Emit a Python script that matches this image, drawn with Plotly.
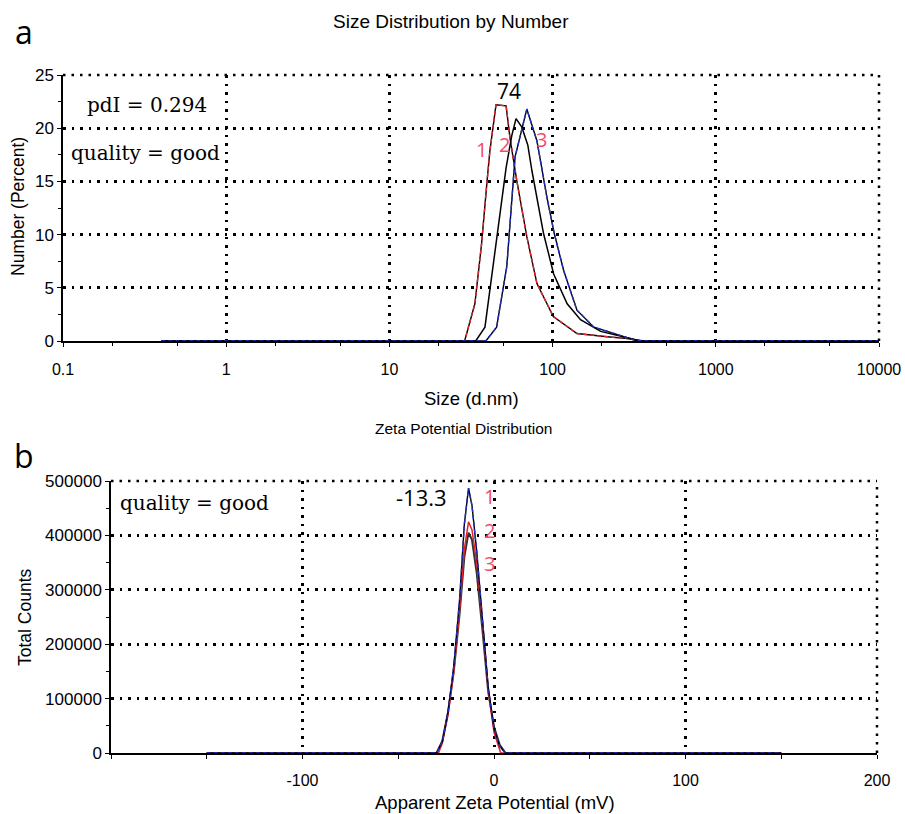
import plotly.graph_objects as go

W, H = 905, 814

# ---------------- data: size distribution (panel a) ----------------
size_run1 = [0.4, 28.9, 33.4, 36.7, 39.7, 41.3, 45.0, 51.9, 54.8, 60.3, 69.5, 80.2, 101, 141, 216, 302, 347, 10000]
num_run1 = [0, 0, 3.5, 9.1, 15.1, 17.9, 22.2, 22.1, 19.1, 15.1, 9.8, 5.4, 2.3, 0.7, 0.4, 0.2, 0, 0]

size_run2 = [0.4, 33.8, 38.5, 43.3, 47.6, 51.9, 56.2, 59.7, 64.8, 70.5, 74.7, 88.0, 101.5, 122.8, 148.3, 197, 287, 347, 10000]
num_run2 = [0, 0, 1.3, 7.3, 12.3, 16.3, 19.3, 20.9, 20.1, 18.4, 16.0, 10.1, 6.3, 3.5, 2.0, 0.9, 0.3, 0, 0]

size_run3 = [0.4, 39.0, 45.4, 52.4, 58.9, 63.9, 69.5, 80.2, 92.3, 102.4, 117, 141, 179, 250, 316, 373, 10000]
num_run3 = [0, 0, 1.3, 7.0, 17.3, 19.4, 21.8, 18.8, 13.5, 10.1, 6.6, 2.9, 1.3, 0.6, 0.1, 0, 0]

size_ticks = [0.1, 1, 10, 100, 1000, 10000]
size_ticktext = ["0.1", "1", "10", "100", "1000", "10000"]
num_ticks = [0, 5, 10, 15, 20, 25]

# ---------------- data: zeta potential (panel b) ----------------
zeta_run1 = [-150, -30, -27, -24, -21, -18, -15.5, -13.3, -11.5, -9, -6, -3, 0, 3, 6, 150]
cnt_run1 = [0, 0, 20000, 75000, 160000, 280000, 420000, 487000, 455000, 370000, 245000, 120000, 45000, 12000, 0, 0]

zeta_run2 = [-150, -29, -27, -24, -21, -18, -15.5, -13.3, -11.5, -9, -6, -3, 0, 3.5, 150]
cnt_run2 = [0, 0, 18000, 70000, 150000, 262000, 375000, 425000, 410000, 350000, 240000, 115000, 38000, 0, 0]

zeta_run3 = [-150, -30, -27, -24, -21, -18, -15.5, -13.3, -11.5, -9, -6, -3, 0, 3, 6, 150]
cnt_run3 = [0, 0, 22000, 75000, 150000, 255000, 360000, 405000, 392000, 330000, 225000, 112000, 48000, 15000, 0, 0]

zeta_ticks = [-100, 0, 100, 200]
zeta_ticktext = ["-100", "0", "100", "200"]
count_ticks = [0, 100000, 200000, 300000, 400000, 500000]
count_ticktext = ["0", "100000", "200000", "300000", "400000", "500000"]

# ---------------- figure ----------------
fig = go.Figure()

def px_x(p):
    return p / W

def px_y(p):
    return 1 - p / H

# panel a traces (black line under coloured dashed overlay)
fig.add_trace(go.Scatter(x=size_run1, y=num_run1, mode="lines", line=dict(color="black", width=1.4), xaxis="x", yaxis="y"))
fig.add_trace(go.Scatter(x=size_run1, y=num_run1, mode="lines", line=dict(color="#e8212b", width=1.4, dash="4px,3px"), xaxis="x", yaxis="y"))
fig.add_trace(go.Scatter(x=size_run2, y=num_run2, mode="lines", line=dict(color="black", width=1.5), xaxis="x", yaxis="y"))
fig.add_trace(go.Scatter(x=size_run3, y=num_run3, mode="lines", line=dict(color="black", width=1.4), xaxis="x", yaxis="y"))
fig.add_trace(go.Scatter(x=size_run3, y=num_run3, mode="lines", line=dict(color="#1f2fd0", width=1.4, dash="4px,3px"), xaxis="x", yaxis="y"))

# panel b traces
fig.add_trace(go.Scatter(x=zeta_run3, y=cnt_run3, mode="lines", line=dict(color="#333333", width=2), xaxis="x2", yaxis="y2"))
fig.add_trace(go.Scatter(x=zeta_run2, y=cnt_run2, mode="lines", line=dict(color="#e8212b", width=1.5), xaxis="x2", yaxis="y2"))
fig.add_trace(go.Scatter(x=zeta_run1, y=cnt_run1, mode="lines", line=dict(color="black", width=1.4), xaxis="x2", yaxis="y2"))
fig.add_trace(go.Scatter(x=zeta_run1, y=cnt_run1, mode="lines", line=dict(color="#1f2fd0", width=1.4, dash="4px,3px"), xaxis="x2", yaxis="y2"))

DOT = "2.5px,6px"
tickfont = dict(family="Liberation Sans", size=16, color="black")
grid = dict(showgrid=True, gridcolor="black", gridwidth=2.5, griddash=DOT)
axline = dict(showline=True, linecolor="black", linewidth=1.5, zeroline=False, ticks="outside",
              ticklen=4, tickwidth=1.2, tickcolor="black", automargin=False)

fig.update_layout(
    width=W, height=H,
    margin=dict(l=0, r=0, t=0, b=0),
    paper_bgcolor="white", plot_bgcolor="white",
    showlegend=False,
    xaxis=dict(domain=[px_x(63), px_x(879)], anchor="y", type="log", range=[-1, 4],
               tickvals=size_ticks, ticktext=size_ticktext, ticklabelstandoff=9, tickfont=tickfont,
               minor=dict(ticks="outside", ticklen=3, tickcolor="black", showgrid=False),
               **grid, **axline),
    yaxis=dict(domain=[px_y(341), px_y(75)], anchor="x", range=[0, 25], tickvals=num_ticks,
               tickfont=dict(family="Liberation Sans", size=17, color="black"),
               minor=dict(ticks="outside", ticklen=3, tickcolor="black", dtick=2.5, showgrid=False),
               **grid, **axline),
    xaxis2=dict(domain=[px_x(111), px_x(877)], anchor="y2", range=[-200, 200],
                tickvals=zeta_ticks, ticktext=zeta_ticktext, ticklabelstandoff=8, tickfont=tickfont,
                minor=dict(ticks="outside", ticklen=4, tickcolor="black", dtick=50, showgrid=False),
                **grid, **axline),
    yaxis2=dict(domain=[px_y(753), px_y(481)], anchor="x2", range=[0, 500000],
                tickvals=count_ticks, ticktext=count_ticktext,
                tickfont=dict(family="Liberation Sans", size=17, color="black"),
                minor=dict(ticks="outside", ticklen=3, tickcolor="black", dtick=50000, showgrid=False),
                **grid, **axline),
)

# dotted frame lines on top and right edges (grid lines at range ends)
for xr, yr in (("x", "y"), ("x2", "y2")):
    fig.add_shape(type="line", xref=f"{xr} domain", yref=f"{yr} domain", x0=0, x1=1, y0=1, y1=1,
                  line=dict(color="black", width=2.5, dash=DOT))
    fig.add_shape(type="line", xref=f"{xr} domain", yref=f"{yr} domain", x0=1, x1=1, y0=0, y1=1,
                  line=dict(color="black", width=2.5, dash=DOT))

sans = "Liberation Sans"
serif = "DejaVu Serif"
calibri = "Open Sans"
pink = "#f04d6a"

def ann(text, x, y, size, family, color="black", angle=0):
    fig.add_annotation(text=text, x=px_x(x), y=px_y(y), xref="paper", yref="paper",
                       showarrow=False, textangle=angle,
                       font=dict(family=family, size=size, color=color),
                       xanchor="center", yanchor="middle")

# titles & axis labels
ann("Size Distribution by Number", 451, 22, 19, sans)
ann("Size (d.nm)", 471, 398, 18.5, sans)
ann("Number (Percent)", 18, 207, 17.5, sans, angle=-90)
ann("Zeta Potential Distribution", 463, 429, 15.5, sans)
ann("Apparent Zeta Potential (mV)", 495, 802, 18.5, sans)
ann("Total Counts", 25, 617, 17.5, sans, angle=-90)

# panel letters
ann("a", 24, 32, 32, calibri)
ann("b", 24, 455, 32, calibri)

# panel a notes
ann("pdI = 0.294", 147, 105, 20, serif)
ann("quality = good", 145, 153, 20, serif)
ann("74", 509, 91, 21, calibri)
ann("1", 481, 149, 20, calibri, pink)
ann("2", 504, 144, 20, calibri, pink)
ann("3", 541, 140, 20, calibri, pink)

# panel b notes
ann("quality = good", 194, 503, 20, serif)
ann("-13.3", 421, 497, 22, calibri)
ann("1", 490, 496, 20, calibri, pink)
ann("2", 490, 530, 20, calibri, pink)
ann("3", 489, 563, 20, calibri, pink)

fig.write_html("out.html")
